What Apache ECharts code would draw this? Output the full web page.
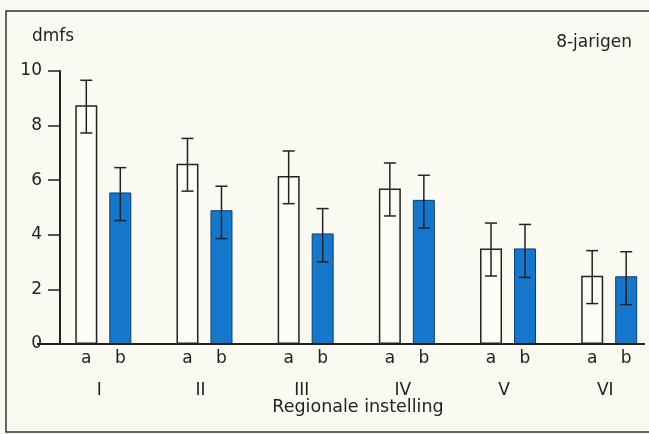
<!DOCTYPE html>
<html>
<head>
<meta charset="utf-8">
<script src="https://cdn.jsdelivr.net/npm/echarts@6/dist/echarts.min.js"></script>
<style>
html,body{margin:0;padding:0;background:#fafaf2;}
#c{width:649px;height:434px;}
</style>
</head>
<body>
<div id="c"></div>
<script>
// ---- data ----
const regions = ['I', 'II', 'III', 'IV', 'V', 'VI'];
const seriesNames = ['a', 'b'];
const valuesA = [8.75, 6.6, 6.15, 5.7, 3.5, 2.5];
const valuesB = [5.55, 4.9, 4.05, 5.28, 3.5, 2.48];
const errLowA = [7.73, 5.6, 5.14, 4.69, 2.49, 1.48];
const errHighA = [9.66, 7.53, 7.07, 6.63, 4.43, 3.42];
const errLowB = [4.52, 3.86, 3.01, 4.25, 2.44, 1.44];
const errHighB = [6.46, 5.78, 4.96, 6.18, 4.38, 3.38];
const yTicks = [0, 2, 4, 6, 8, 10];
const yLabel = 'dmfs';
const cornerLabel = '8-jarigen';
const xLabel = 'Regionale instelling';

// ---- style ----
const FONT = 'DejaVu Sans';
const INK = '#222';
const BAR_W = 22;
const BAR_GAP = 12;
const OFF = (BAR_W + BAR_GAP) / 2;
const GRID_LEFT = 103.3;   // centre of first group
const GRID_RIGHT = 649 - 609.2; // centre of last group
const Y_AXIS_X = 60;

function errSeries(lo, hi, sign) {
  return {
    type: 'custom',
    z: 5,
    clip: false,
    data: lo.map((l, i) => [i, l, hi[i]]),
    renderItem: function (params, api) {
      const p0 = api.coord([api.value(0), api.value(1)]);
      const p1 = api.coord([api.value(0), api.value(2)]);
      const x = p0[0] + sign * OFF;
      const cap = 6;
      const st = { stroke: INK, lineWidth: 1.5 };
      return {
        type: 'group',
        children: [
          { type: 'line', shape: { x1: x, y1: p0[1], x2: x, y2: p1[1] }, style: st },
          { type: 'line', shape: { x1: x - cap, y1: p0[1], x2: x + cap, y2: p0[1] }, style: st },
          { type: 'line', shape: { x1: x - cap, y1: p1[1], x2: x + cap, y2: p1[1] }, style: st }
        ]
      };
    }
  };
}

const chart = echarts.init(document.getElementById('c'), null, { renderer: 'canvas' });
const option = {
  backgroundColor: '#fafaf2',
  animation: false,
  textStyle: { fontFamily: FONT, color: INK },
  title: [
    { text: yLabel, left: 32, top: 28, padding: 0, textStyle: { fontFamily: FONT, fontSize: 17, fontWeight: 'normal', color: INK } },
    { text: cornerLabel, right: 17, top: 34, padding: 0, textStyle: { fontFamily: FONT, fontSize: 17, fontWeight: 'normal', color: INK } },
    { text: xLabel, left: 358, textAlign: 'center', top: 398, padding: 0, textStyle: { fontFamily: FONT, fontSize: 17.5, fontWeight: 'normal', color: INK } }
  ],
  grid: { left: GRID_LEFT, right: GRID_RIGHT, top: 71, bottom: 90, containLabel: false },
  xAxis: {
    type: 'category',
    data: regions,
    boundaryGap: false,
    axisLine: { show: false },
    axisTick: { show: false },
    splitLine: { show: false },
    axisLabel: { margin: 38, fontSize: 17, color: INK, fontFamily: FONT, interval: 0, padding: [0, 8, 0, 0] }
  },
  yAxis: {
    type: 'value',
    min: 0, max: 10, interval: 2,
    offset: GRID_LEFT - Y_AXIS_X,
    axisLine: { show: true, lineStyle: { color: INK, width: 2 } },
    axisTick: { show: true, length: 12, lineStyle: { color: INK, width: 1.5 } },
    axisLabel: {
      margin: 18, fontSize: 17, color: INK, fontFamily: FONT,
      formatter: v => (yTicks.indexOf(v) >= 0 ? String(v) : '')
    },
    splitLine: { show: false }
  },
  series: [
    {
      name: seriesNames[0], type: 'bar', data: valuesA, barWidth: BAR_W, clip: false,
      barGap: (BAR_GAP / BAR_W * 100) + '%',
      itemStyle: { color: '#fdfdf8', borderColor: INK, borderWidth: 1.5 },
      label: { show: true, position: 'bottom', distance: 6, formatter: () => seriesNames[0], fontSize: 17, color: INK, fontFamily: FONT }
    },
    {
      name: seriesNames[1], type: 'bar', data: valuesB, barWidth: BAR_W, clip: false,
      itemStyle: { color: '#1577cc', borderColor: '#0b3f70', borderWidth: 1 },
      label: { show: true, position: 'bottom', distance: 6, formatter: () => seriesNames[1], fontSize: 17, color: INK, fontFamily: FONT }
    },
    errSeries(errLowA, errHighA, -1),
    errSeries(errLowB, errHighB, 1)
  ]
};
chart.setOption(option);
const y0 = chart.convertToPixel({ yAxisIndex: 0 }, 0);
chart.setOption({
  graphic: [
    { type: 'rect', shape: { x: 6, y: 11, width: 650, height: 421 }, style: { fill: 'none', stroke: '#333', lineWidth: 1.5 }, silent: true },
    { type: 'line', z: 10, shape: { x1: 37, y1: y0, x2: 645, y2: y0 }, style: { stroke: INK, lineWidth: 2 }, silent: true }
  ]
});
</script>
</body>
</html>
